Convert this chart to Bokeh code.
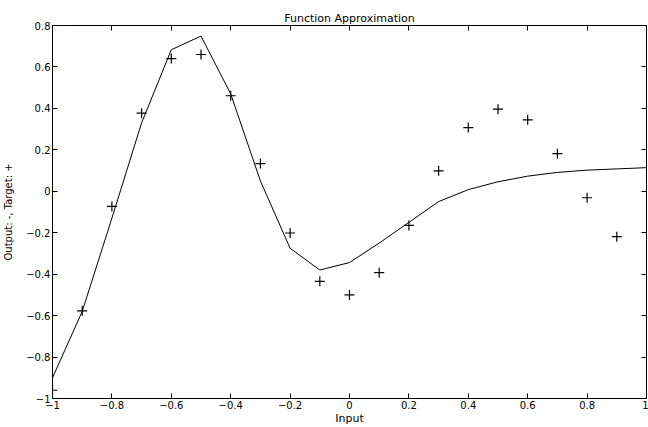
from bokeh.plotting import figure
from bokeh.models import FixedTicker, LinearAxis, Range1d
from bokeh.embed import file_html
from bokeh.resources import INLINE

# Targets (classic demo data) at inputs -1:0.1:0.9
x_target = [-1.0, -0.9, -0.8, -0.7, -0.6, -0.5, -0.4, -0.3, -0.2, -0.1,
            0.0, 0.1, 0.2, 0.3, 0.4, 0.5, 0.6, 0.7, 0.8, 0.9]
y_target = [-0.9602, -0.5770, -0.0729, 0.3771, 0.6405, 0.6600, 0.4609, 0.1336,
            -0.2013, -0.4344, -0.5000, -0.3930, -0.1647, 0.0988, 0.3072,
            0.3960, 0.3449, 0.1816, -0.0312, -0.2189]

# Network output at inputs -1:0.1:1
x_output = [-1.0, -0.9, -0.8, -0.7, -0.6, -0.5, -0.4, -0.3, -0.2, -0.1, 0.0,
            0.1, 0.2, 0.3, 0.4, 0.5, 0.6, 0.7, 0.8, 0.9, 1.0]
y_output = [-0.90, -0.58, -0.13, 0.33, 0.683, 0.749, 0.47, 0.05, -0.275, -0.38,
            -0.344, -0.25, -0.15, -0.05, 0.008, 0.046, 0.073, 0.091, 0.102,
            0.108, 0.114]

x_ticks = [-1.0, -0.8, -0.6, -0.4, -0.2, 0.0, 0.2, 0.4, 0.6, 0.8, 1.0]
x_tick_labels = ["\u22121", "\u22120.8", "\u22120.6", "\u22120.4", "\u22120.2",
                 "0", "0.2", "0.4", "0.6", "0.8", "1"]
y_ticks = [-1.0, -0.8, -0.6, -0.4, -0.2, 0.0, 0.2, 0.4, 0.6, 0.8]
y_tick_labels = ["\u22121", "\u22120.8", "\u22120.6", "\u22120.4", "\u22120.2",
                 "0", "0.2", "0.4", "0.6", "0.8"]

FONT = "DejaVu Sans"

p = figure(width=648, height=427, x_range=Range1d(-1, 1), y_range=Range1d(-1, 0.8),
           output_backend="svg", toolbar_location=None,
           min_border_left=52, min_border_right=2, min_border_top=25, min_border_bottom=27,
           title="Function Approximation")
p.background_fill_color = "white"
p.border_fill_color = "white"
p.outline_line_color = "black"
p.outline_line_width = 1
p.grid.visible = False

p.title.align = "center"
p.title.vertical_align = "middle"
p.title.text_font = FONT
p.title.text_font_size = "11px"
p.title.text_font_style = "normal"
p.title.text_color = "black"
p.title.standoff = 0
p.title.offset = 0


def style_axis(ax, ticks, labels, show_labels=True):
    ax.ticker = FixedTicker(ticks=ticks)
    if show_labels:
        ax.major_label_overrides = {t: l for t, l in zip(ticks, labels)}
    else:
        ax.major_label_overrides = {t: "" for t in ticks}
    ax.major_tick_in = 5
    ax.major_tick_out = 0
    ax.minor_tick_line_color = None
    ax.axis_line_color = "black"
    ax.major_tick_line_color = "black"
    ax.major_label_text_font = FONT
    ax.major_label_text_font_size = "10px" if show_labels else "0px"
    ax.major_label_text_color = "black"
    ax.major_label_standoff = 2 if show_labels else 0
    ax.axis_label_text_font = FONT
    ax.axis_label_text_font_style = "normal"
    ax.axis_label_text_color = "black"


style_axis(p.xaxis[0], x_ticks, x_tick_labels)
p.xaxis[0].axis_label = "Input"
p.xaxis[0].axis_label_text_font_size = "11px"
p.xaxis[0].axis_label_standoff = 0
style_axis(p.yaxis[0], y_ticks, y_tick_labels)
p.yaxis[0].axis_label = "Output: -, Target: +"
p.yaxis[0].axis_label_text_font_size = "10px"
p.yaxis[0].axis_label_standoff = 9

top_axis = LinearAxis()
style_axis(top_axis, x_ticks, x_tick_labels, show_labels=False)
p.add_layout(top_axis, "above")
right_axis = LinearAxis()
style_axis(right_axis, y_ticks, y_tick_labels, show_labels=False)
p.add_layout(right_axis, "right")

p.line(x_output, y_output, line_color="black", line_width=1)
p.scatter(x_target, y_target, marker="cross", size=10, line_color="black", line_width=1.2)

open("out.html", "w").write(file_html(p, INLINE))
